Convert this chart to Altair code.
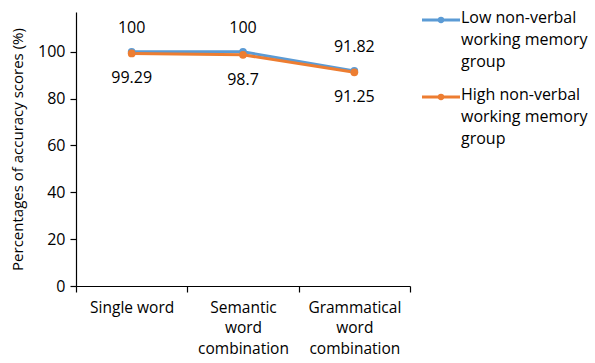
import altair as alt
import pandas as pd

categories = ["Single word", "Semantic word combination", "Grammatical word combination"]
low_values = [100, 100, 91.82]
high_values = [99.29, 98.7, 91.25]
series_names = ["Low non-verbal working memory group", "High non-verbal working memory group"]
legend_labels = ["Low non-verbal\nworking memory\ngroup", "High non-verbal\nworking memory\ngroup"]
colors = ["#5B9BD5", "#ED7D31"]
y_ticks = [0, 20, 40, 60, 80, 100]

FONT = "Open Sans"
FS = 16

rows = []
for s, vals in zip(series_names, [low_values, high_values]):
    for c, v in zip(categories, vals):
        rows.append({"category": c, "series": s, "value": v, "label": f"{v:g}"})
df = pd.DataFrame(rows)

color = alt.Color("series:N", scale=alt.Scale(domain=series_names, range=colors), legend=None)

x = alt.X(
    "category:N",
    sort=categories,
    scale=alt.Scale(type="band", paddingInner=0, paddingOuter=0),
    axis=alt.Axis(
        title=None, labelAngle=0, tickBand="extent", tickSize=6,
        labelExpr="datum.label == 'Single word' ? datum.label : split(datum.label, ' ')",
        labelPadding=8, labelLineHeight=20.5, labelBaseline="top", labelFontSize=15.5,
    ),
)
y = alt.Y(
    "value:Q",
    scale=alt.Scale(domain=[0, 117], nice=False),
    axis=alt.Axis(values=y_ticks, grid=False, title="Percentages of accuracy scores (%)",
                  tickSize=6, labelPadding=5, titlePadding=12, titleFontSize=15),
)

base = alt.Chart(df).encode(x=x, y=y, color=color, detail="series:N")

lines = base.mark_line(strokeWidth=3)
points = base.mark_point(filled=True, size=60, opacity=1)
txt_low = base.transform_filter(alt.datum.series == series_names[0]).mark_text(
    dy=-24, font=FONT, fontSize=FS, color="#000"
).encode(text="label:N", color=alt.value("#000"))
txt_high = base.transform_filter(alt.datum.series == series_names[1]).mark_text(
    dy=25, font=FONT, fontSize=FS, color="#000"
).encode(text="label:N", color=alt.value("#000"))

main = alt.layer(lines, points, txt_low, txt_high).properties(width=334, height=274)

leg_df = pd.DataFrame({"series": series_names, "text": legend_labels})
ly = alt.Y("series:N", scale=alt.Scale(type="point", domain=series_names, range=[8, 85], padding=0), axis=None)
lcolor = alt.Color("series:N", scale=alt.Scale(domain=series_names, range=colors), legend=None)
leg_base = alt.Chart(leg_df).encode(y=ly)
leg_rule = leg_base.mark_rule(strokeWidth=3).encode(x=alt.value(0), x2=alt.value(38), color=lcolor)
leg_pt = leg_base.mark_point(filled=True, size=40, opacity=1).encode(x=alt.value(19), color=lcolor)
leg_txt = leg_base.mark_text(align="left", baseline="top", dy=-10, lineBreak="\n",
                             lineHeight=22, font=FONT, fontSize=FS, color="#000").encode(
    x=alt.value(39), text="text:N")
legend = alt.layer(leg_rule, leg_pt, leg_txt).properties(width=160, height=274)

chart = alt.hconcat(main, legend, spacing=9).resolve_scale(color="shared", y="independent").properties(
    padding={"left": 10, "top": 10, "right": 0, "bottom": 0}
).configure_view(stroke=None).configure_axis(
    labelFont=FONT, labelFontSize=FS, labelColor="#000", titleFont=FONT, titleFontSize=FS,
    titleFontWeight="normal", titleColor="#000", domainColor="#000", tickColor="#000",
    domainWidth=1.2, tickWidth=1.2,
)

chart.save("out.html", embed_options={"renderer": "svg", "actions": False})
